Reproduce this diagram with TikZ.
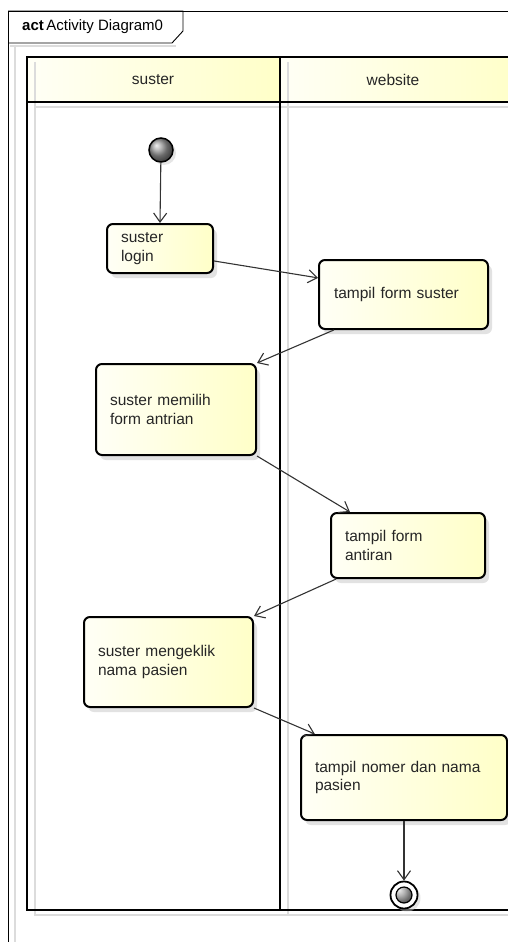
\documentclass[tikz,border=0pt]{standalone}
\usepackage{fontspec}
\setmainfont{Liberation Sans}
\usepackage{tikz}
\usetikzlibrary{arrows.meta,shadows,positioning}
\definecolor{noteyellow}{HTML}{FFFFC8}
\definecolor{notewhite}{HTML}{FFFFF6}
\definecolor{ghost}{HTML}{DCDCDC}

\tikzset{
  action/.style={draw, line width=2pt, rounded corners=6pt,
    left color=notewhite, right color=noteyellow,
    drop shadow={shadow xshift=4pt,shadow yshift=-5pt,fill=black!22},
    align=left, inner xsep=14pt, inner ysep=0pt, text=black!85,
    font=\fontsize{15.5}{18.5}\selectfont},
  flow/.style={-{Straight Barb[length=9pt,width=13pt]}, line width=1.1pt, black!80},
  lane/.style={line width=2.5pt},
  lanename/.style={font=\fontsize{15.5}{18}\selectfont, text=black!85},
}

\begin{document}
\begin{tikzpicture}[x=1pt,y=-1pt]
\useasboundingbox (0,0) rectangle (508,942);
\clip (0,0) rectangle (508,942);
\fill[white] (0,0) rectangle (508,942);

% frame and tab
\draw[ghost,line width=1.5pt] (15,47) -- (15,942);
\draw[ghost,line width=1.5pt] (10,46) -- (176,46);
\draw[line width=0.9pt] (8,11) -- (520,11);
\draw[line width=0.9pt] (8,11) -- (8,950);
\draw[line width=0.9pt] (8,11) -- (183,11) -- (183,31) -- (172,43) -- (8,43);
\node[anchor=west,font=\fontsize{15}{17}\selectfont,inner sep=0pt] (title) at (22,27)
  {\textbf{act}\,Activity Diagram0};

% swimlanes
\shade[left color=notewhite,right color=noteyellow] (27,57) rectangle (280,102);
\shade[left color=notewhite,right color=noteyellow] (280,57) rectangle (520,102);
\draw[ghost,line width=2.5pt] (35,62) -- (35,915) -- (520,915);
\draw[ghost,line width=2.5pt] (288,62) -- (288,915);
\draw[ghost,line width=2.5pt] (35,107) -- (520,107);
\draw[lane] (520,57) -- (27,57) -- (27,910) -- (520,910);
\draw[lane] (27,102) -- (520,102);
\draw[lane] (280,57) -- (280,910);
\node[lanename] (suster) at (153,80) {suster};
\node[lanename] (website) at (393,80) {website};

% nodes
\node[circle, draw, line width=1.5pt, minimum size=24pt, inner sep=0pt,
  ball color=black!40, drop shadow={shadow xshift=3pt,shadow yshift=-3pt,fill=black!20}]
  (start) at (161,150) {};
\node[action, text width=78pt, minimum height=49pt] (login) at (160,248.5) {suster\\login};
\node[action, text width=139pt, minimum height=69pt, inner xsep=15pt] (sform) at (403.5,294.5) {tampil form suster};
\node[action, text width=132pt, minimum height=91pt] (memilih) at (176,409.5) {suster memilih\\form antrian};
\node[action, text width=126pt, minimum height=65pt] (antiran) at (408,545.5) {tampil form\\antiran};
\node[action, text width=141pt, minimum height=90pt] (mengeklik) at (168.5,662) {suster mengeklik\\nama pasien};
\node[action, text width=178pt, minimum height=85pt] (nomer) at (404,777.5) {tampil nomer dan nama\\pasien};
\node[circle, draw, line width=1.8pt, fill=white, minimum size=27pt, inner sep=0pt,
  drop shadow={shadow xshift=3pt,shadow yshift=-3pt,fill=black!20},
  path picture={\shade[ball color=black!40] (path picture bounding box.center) circle (8pt);
    \draw[line width=1.2pt] (path picture bounding box.center) circle (8pt);}]
  (finish) at (404,895) {};

% flows
\draw[flow] (start) -- (login.north);
\draw[flow] (login.-13) -- (sform.169);
\draw[flow] (sform.207) -- (memilih.north east);
\draw[flow] (memilih.south east) -- (antiran.150);
\draw[flow] (antiran.205) -- (mengeklik.north east);
\draw[flow] (mengeklik.south east) -- (nomer.154);
\draw[flow] (nomer.south) -- (finish);
\end{tikzpicture}
\end{document}
